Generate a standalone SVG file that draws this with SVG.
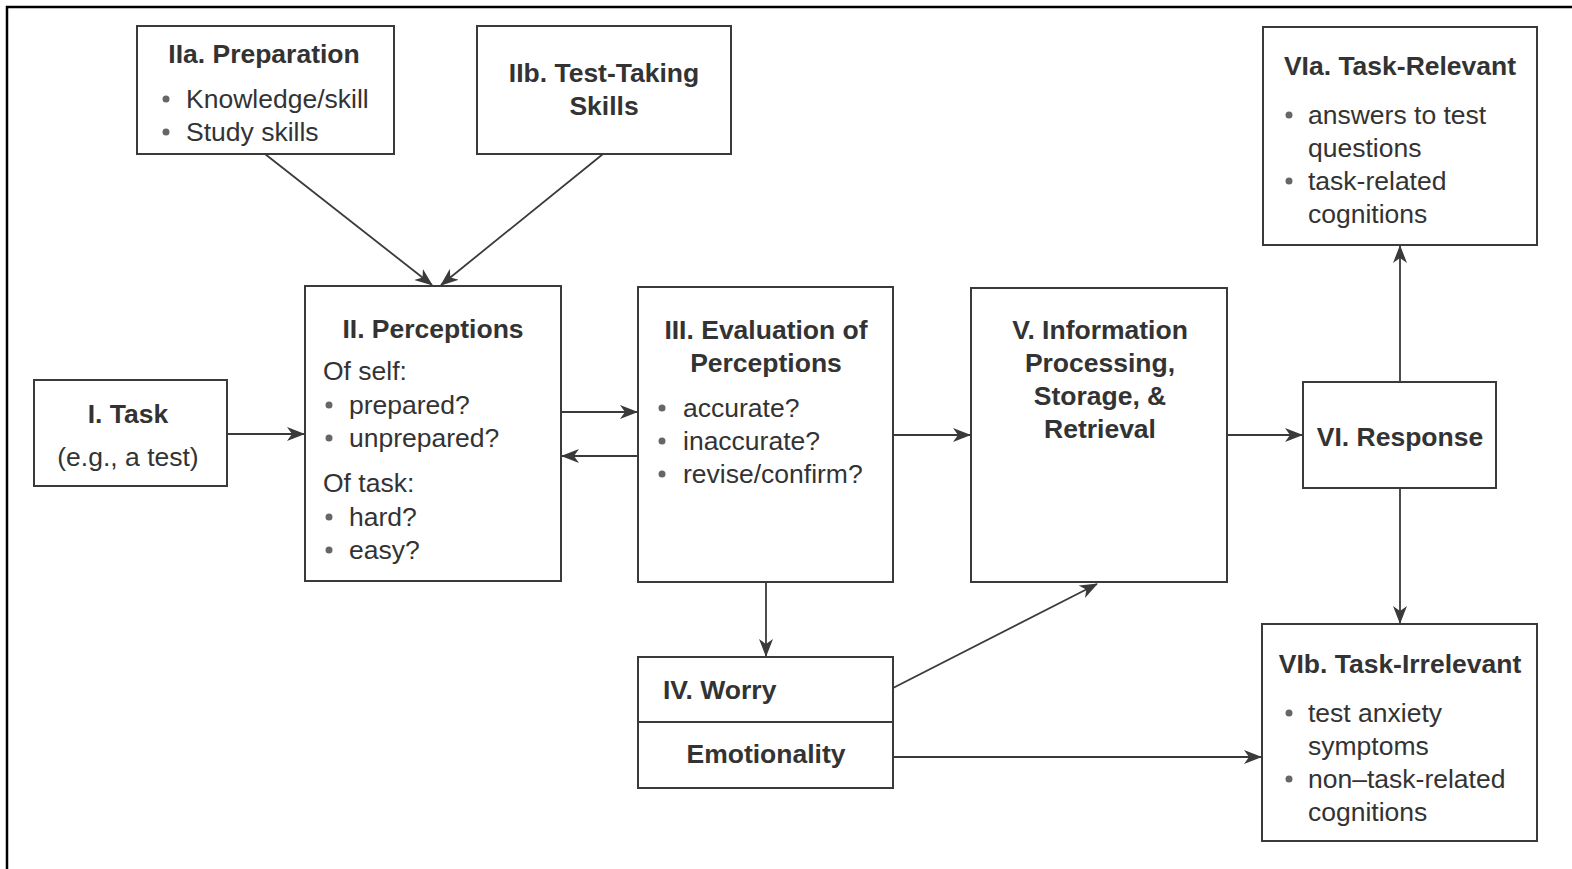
<svg xmlns="http://www.w3.org/2000/svg" width="1572" height="869" viewBox="0 0 1572 869">
<style>
.box{fill:#fff;stroke:#3a3a3a;stroke-width:2}
.t{font-family:"Liberation Sans",Arial,sans-serif;font-weight:bold;font-size:26.5px;fill:#333}
.b{font-family:"Liberation Sans",Arial,sans-serif;font-size:26.5px;fill:#333}
.c{text-anchor:middle}
.dot{fill:#666}
.ln{stroke:#3a3a3a;stroke-width:1.8;fill:none;marker-end:url(#ah)}
</style>
<defs>
<marker id="ah" viewBox="0 0 18 14" refX="17" refY="7" markerWidth="18" markerHeight="14" markerUnits="userSpaceOnUse" orient="auto">
<path d="M0,0 L18,7 L0,14 L5,7 Z" fill="#3a3a3a"/>
</marker>
</defs>
<rect width="1572" height="869" fill="#fff"/>
<path d="M7,869 V7 H1572" fill="none" stroke="#000" stroke-width="2.5"/>

<g id="connectors">
<line class="ln" x1="265" y1="154" x2="432" y2="285"/>
<line class="ln" x1="603" y1="154" x2="441" y2="285"/>
<line class="ln" x1="227" y1="434" x2="304" y2="434"/>
<line class="ln" x1="561" y1="412" x2="637" y2="412"/>
<line class="ln" x1="638" y1="456" x2="562" y2="456"/>
<line class="ln" x1="893" y1="435" x2="970" y2="435"/>
<line class="ln" x1="1227" y1="435" x2="1302" y2="435"/>
<line class="ln" x1="1400" y1="382" x2="1400" y2="246"/>
<line class="ln" x1="1400" y1="488" x2="1400" y2="623"/>
<line class="ln" x1="766" y1="582" x2="766" y2="656"/>
<line class="ln" x1="893" y1="688" x2="1097" y2="584"/>
<line class="ln" x1="893" y1="757" x2="1261" y2="757"/>
</g>

<g id="n-IIa">
<rect class="box" x="137" y="26" width="257" height="128"/>
<text class="t c" x="264" y="63">IIa. Preparation</text>
<circle class="dot" cx="166" cy="99" r="3.5"/>
<text class="b" x="186" y="108">Knowledge/skill</text>
<circle class="dot" cx="166" cy="132" r="3.5"/>
<text class="b" x="186" y="141">Study skills</text>
</g>

<g id="n-IIb">
<rect class="box" x="477" y="26" width="254" height="128"/>
<text class="t c" x="604" y="82">IIb. Test-Taking</text>
<text class="t c" x="604" y="115">Skills</text>
</g>

<g id="n-I">
<rect class="box" x="34" y="380" width="193" height="106"/>
<text class="t c" x="128" y="423">I. Task</text>
<text class="b c" x="128" y="466">(e.g., a test)</text>
</g>

<g id="n-II">
<rect class="box" x="305" y="286" width="256" height="295"/>
<text class="t c" x="433" y="338">II. Perceptions</text>
<text class="b" x="323" y="380">Of self:</text>
<circle class="dot" cx="329" cy="405" r="3.5"/>
<text class="b" x="349" y="414">prepared?</text>
<circle class="dot" cx="329" cy="438" r="3.5"/>
<text class="b" x="349" y="447">unprepared?</text>
<text class="b" x="323" y="492">Of task:</text>
<circle class="dot" cx="329" cy="517" r="3.5"/>
<text class="b" x="349" y="526">hard?</text>
<circle class="dot" cx="329" cy="550" r="3.5"/>
<text class="b" x="349" y="559">easy?</text>
</g>

<g id="n-III">
<rect class="box" x="638" y="287" width="255" height="295"/>
<text class="t c" x="766" y="339">III. Evaluation of</text>
<text class="t c" x="766" y="372">Perceptions</text>
<circle class="dot" cx="662" cy="408" r="3.5"/>
<text class="b" x="683" y="417">accurate?</text>
<circle class="dot" cx="662" cy="441" r="3.5"/>
<text class="b" x="683" y="450">inaccurate?</text>
<circle class="dot" cx="662" cy="474" r="3.5"/>
<text class="b" x="683" y="483">revise/confirm?</text>
</g>

<g id="n-IV">
<rect class="box" x="638" y="657" width="255" height="131"/>
<line x1="638" y1="722" x2="893" y2="722" stroke="#3a3a3a" stroke-width="2"/>
<text class="t" x="663" y="699">IV. Worry</text>
<text class="t c" x="766" y="763">Emotionality</text>
</g>

<g id="n-V">
<rect class="box" x="971" y="288" width="256" height="294"/>
<text class="t c" x="1100" y="339">V. Information</text>
<text class="t c" x="1100" y="372">Processing,</text>
<text class="t c" x="1100" y="405">Storage, &amp;</text>
<text class="t c" x="1100" y="438">Retrieval</text>
</g>

<g id="n-VI">
<rect class="box" x="1303" y="382" width="193" height="106"/>
<text class="t c" x="1400" y="446">VI. Response</text>
</g>

<g id="n-VIa">
<rect class="box" x="1263" y="27" width="274" height="218"/>
<text class="t c" x="1400" y="75">VIa. Task-Relevant</text>
<circle class="dot" cx="1289" cy="115" r="3.5"/>
<text class="b" x="1308" y="124">answers to test</text>
<text class="b" x="1308" y="157">questions</text>
<circle class="dot" cx="1289" cy="181" r="3.5"/>
<text class="b" x="1308" y="190">task-related</text>
<text class="b" x="1308" y="223">cognitions</text>
</g>

<g id="n-VIb">
<rect class="box" x="1262" y="624" width="275" height="217"/>
<text class="t c" x="1400" y="673">VIb. Task-Irrelevant</text>
<circle class="dot" cx="1289" cy="713" r="3.5"/>
<text class="b" x="1308" y="722">test anxiety</text>
<text class="b" x="1308" y="755">symptoms</text>
<circle class="dot" cx="1289" cy="779" r="3.5"/>
<text class="b" x="1308" y="788">non–task-related</text>
<text class="b" x="1308" y="821">cognitions</text>
</g>
</svg>
